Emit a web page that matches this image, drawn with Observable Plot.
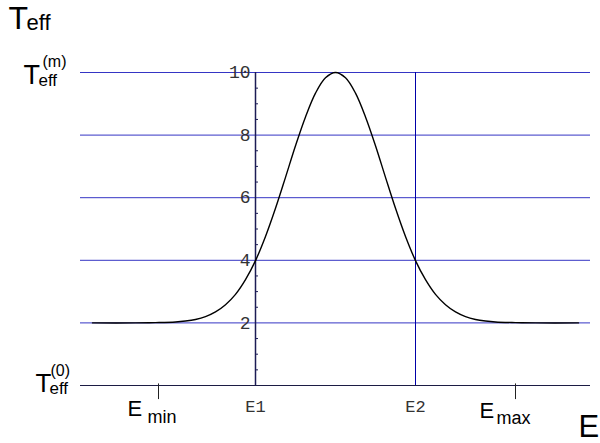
<!DOCTYPE html>
<html>
<head>
<meta charset="utf-8">
<script src="https://cdn.jsdelivr.net/npm/d3@7"></script>
<script src="https://cdn.jsdelivr.net/npm/@observablehq/plot@0.6"></script>
<style>
  html, body { margin: 0; padding: 0; background: #fff; }
  #chart { width: 600px; height: 443px; }
</style>
</head>
<body>
<div id="chart"></div>
<script>
// ---- data ----
const curveE = [1.2, 5.5, 7.5, 9.5, 10.5, 11.5, 12.5, 13.5, 14.5, 15.5, 16.5, 17.5, 18.5, 19.5, 20.5, 21.5, 22.5, 23.5, 24.5, 25.5,
                26.5, 27.5, 28.5, 29.5, 30.5, 31.5, 32.5, 33.5, 34.5, 35.5, 36.5, 37.5, 38.5, 39.5, 40.5, 41.5, 43.5, 45.5, 49.8];
const curveT = [2.00, 2.00, 2.01, 2.03, 2.06, 2.11, 2.20, 2.35, 2.58, 2.91, 3.38, 3.99, 4.76, 5.66, 6.65, 7.66, 8.58, 9.34, 9.83, 10.0,
                9.83, 9.34, 8.58, 7.66, 6.65, 5.66, 4.76, 3.99, 3.38, 2.91, 2.58, 2.35, 2.20, 2.11, 2.06, 2.03, 2.01, 2.00, 2.00];
const yTicks = [2, 4, 6, 8, 10];
const yMinorTicks = [0.5, 1, 1.5, 2.5, 3, 3.5, 4.5, 5, 5.5, 6.5, 7, 7.5, 8.5, 9, 9.5];
const eMarks = ["Emin", "E1", "E2", "Emax"];
const eValues = [7.8, 17.5, 33.5, 43.5];
const eDomain = [0, 51];
const tDomain = [0, 10];

const E = Object.fromEntries(eMarks.map((k, i) => [k, eValues[i]]));
const curve = curveE.map((e, i) => ({E: e, T: curveT[i]}));

const sans = "Liberation Sans, Arial, sans-serif";
const mono = "Liberation Mono, Courier New, monospace";

// composite label helper: parts = [{text, size, dx, dy}]
function label(x, y, parts) {
  return parts.map(p => Plot.text([p.text], {
    x: () => x, y: () => y, text: d => d,
    textAnchor: "start", lineAnchor: "bottom",
    dx: p.dx, dy: p.dy, fontSize: p.size, fontFamily: sans, fill: "#000"
  }));
}

const chart = Plot.plot({
  width: 600,
  height: 443,
  margin: 0,
  x: {domain: eDomain, range: [80, 590], axis: null},
  y: {domain: tDomain, range: [385, 72], axis: null},
  style: {background: "#fff"},
  marks: [
    // horizontal blue grid lines
    Plot.ruleY(yTicks, {x1: eDomain[0], x2: eDomain[1], stroke: "#3535c4", strokeWidth: 1}),
    // horizontal axis line
    Plot.ruleY([0], {x1: eDomain[0], x2: eDomain[1], stroke: "#1c1c44", strokeWidth: 1.2}),
    // vertical axis at E1
    Plot.ruleX([E.E1], {y1: tDomain[0], y2: tDomain[1], stroke: "#1c1c55", strokeWidth: 1.5}),
    // minor ticks on the vertical axis
    Plot.ruleY(yMinorTicks, {x1: E.E1, x2: E.E1 + 0.3, stroke: "#1c1c55", strokeWidth: 1}),
    // vertical line at E2
    Plot.ruleX([E.E2], {y1: tDomain[0], y2: tDomain[1], stroke: "#0000a8", strokeWidth: 1}),
    // Emin / Emax ticks below axis
    Plot.ruleX([E.Emin, E.Emax], {y1: 0.05, y2: -0.45, stroke: "#222", strokeWidth: 1}),
    // curve
    Plot.line(curve, {x: "E", y: "T", curve: "catmull-rom", stroke: "#000", strokeWidth: 1.4}),
    // y tick labels
    Plot.text(yTicks, {x: () => E.E1, y: d => d, text: d => String(d), textAnchor: "end",
      dx: -5, fontFamily: mono, fontSize: 18, fill: "#333"}),
    // E1, E2 labels
    Plot.text(["E1", "E2"], {x: d => E[d], y: () => 0, text: d => d, textAnchor: "middle",
      lineAnchor: "bottom", dy: 26, fontFamily: mono, fontSize: 17, fill: "#333"}),
    // E min / E max
    ...label(E.Emin, 0, [{text: "E", size: 22, dx: -31, dy: 30}, {text: "min", size: 18, dx: -11, dy: 37}]),
    ...label(E.Emax, 0, [{text: "E", size: 22, dx: -36, dy: 32}, {text: "max", size: 18, dx: -19, dy: 38}]),
    // T_eff^(m) at top value, T_eff^(0) at zero
    ...label(eDomain[0], 10, [{text: "T", size: 27, dx: -57, dy: 11}, {text: "eff", size: 17, dx: -42, dy: 13}, {text: "(m)", size: 16, dx: -38, dy: -6}]),
    ...label(eDomain[0], 0, [{text: "T", size: 26, dx: -45, dy: 6}, {text: "eff", size: 17, dx: -31, dy: 8}, {text: "(0)", size: 16, dx: -30, dy: -10}]),
    // axis titles
    Plot.text(["T"], {frameAnchor: "top-left", text: d => d, textAnchor: "start", lineAnchor: "bottom",
      dx: 8, dy: 28, fontSize: 32, fontFamily: sans, fill: "#000"}),
    Plot.text(["eff"], {frameAnchor: "top-left", text: d => d, textAnchor: "start", lineAnchor: "bottom",
      dx: 26, dy: 29, fontSize: 22, fontFamily: sans, fill: "#000"}),
    Plot.text(["E"], {frameAnchor: "top-left", text: d => d, textAnchor: "start", lineAnchor: "bottom",
      dx: 578, dy: 436, fontSize: 31, fontFamily: sans, fill: "#000"})
  ]
});
document.getElementById("chart").appendChild(chart);
</script>
</body>
</html>
